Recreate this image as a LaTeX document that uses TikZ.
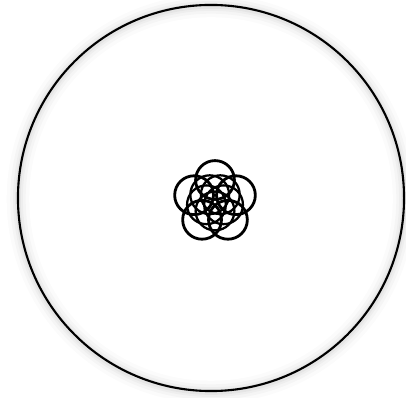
\documentclass[tikz,border=0pt]{standalone}
\usepackage{tikz}
\usetikzlibrary{positioning}

\begin{document}
\begin{tikzpicture}[
    x=0.025cm, y=-0.025cm,
    plate/.style={circle, draw, line width=1.5pt, minimum size=9.65cm, inner sep=0pt},
    halo/.style={circle, draw=black!40, minimum size=9.65cm, inner sep=0pt},
    petal/.style={circle, draw, line width=2pt, minimum size=0.97cm, inner sep=0pt}
]
\useasboundingbox (0,0) rectangle (406,398);

% soft shadow round the dish edge
\foreach \w/\o in {16pt/0.04, 11pt/0.06, 7pt/0.08, 4pt/0.1}
    \node[halo, line width=\w, draw opacity=\o] at (211,199) {};

\node[plate] (dish) at (211,198) {};

% overlapping rings in the middle: outer five and inner five
\coordinate (mid) at (215,202);
\foreach \i in {1,...,5}
    \node[petal] (p\i) at ([shift={(-90+72*\i:22)}]mid) {};
\foreach \i in {1,...,5}
    \node[petal, line width=1.6pt] (q\i) at ([shift={(-54+72*\i:9)}]mid) {};

\end{tikzpicture}
\end{document}
